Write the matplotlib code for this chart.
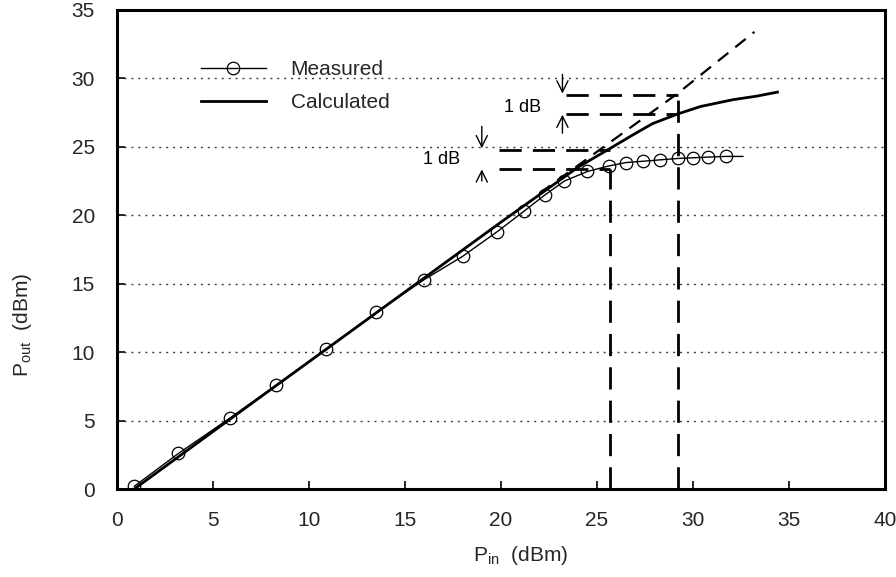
import matplotlib
matplotlib.use("Agg")
import matplotlib.pyplot as plt
import numpy as np

# measured output power vs input power
pin_meas = [0.9, 3.2, 5.9, 8.3, 10.9, 13.5, 16.0, 18.0, 19.8, 21.2, 22.3, 23.3, 24.5, 25.6,
            26.5, 27.4, 28.3, 29.2, 30.0, 30.8, 31.7]
pout_meas = [0.2, 2.6, 5.2, 7.6, 10.2, 12.9, 15.3, 17.0, 18.8, 20.3, 21.5, 22.5, 23.2, 23.6,
             23.85, 23.95, 24.05, 24.15, 24.2, 24.25, 24.3]
meas_line_end = 32.6

# calculated curve
pin_calc = [0.9, 5.0, 10.0, 15.0, 20.0, 22.0, 24.0, 25.7, 26.9, 27.9, 29.2, 30.4, 32.1, 33.3, 34.4]
pout_calc = [0.0, 4.2, 9.3, 14.4, 19.5, 21.5, 23.5, 24.9, 25.9, 26.7, 27.4, 27.95, 28.45, 28.7, 29.0]

# ideal (small-signal) extrapolation
pin_ideal = [22.0, 29.2, 33.2]
pout_ideal = [21.6, 28.9, 33.4]

# 1 dB compression markers: (x start, x end, y upper, y lower)
p1db_meas = (19.9, 25.7, 24.8, 23.4)
p1db_calc = (23.4, 29.2, 28.8, 27.4)

plt.rcParams.update({'font.family': 'Liberation Sans'})
plt.rcParams.update({'mathtext.fontset': 'custom', 'mathtext.rm': 'Liberation Sans',
                     'mathtext.it': 'Liberation Sans:italic'})

fig = plt.figure(figsize=(8.96, 5.77), dpi=100)
ax = fig.add_axes([0.1306, 0.1525, 0.9877 - 0.1306, 0.9827 - 0.1525])

for y in [5, 10, 15, 20, 25, 30]:
    ax.axhline(y, color='0.25', lw=1.0, linestyle=(0, (1.5, 3.5)), zorder=1)

# measured: thin line with open circles
x_line = pin_meas + [meas_line_end]
y_line = pout_meas + [pout_meas[-1]]
ax.plot(x_line, y_line, color='black', lw=1.0, zorder=3)
ax.plot(pin_meas, pout_meas, linestyle='none', marker='o', ms=9, mfc='none', mec='black',
        mew=0.9, zorder=4)
meas_handle, = ax.plot([], [], color='black', lw=1.0, marker='o', ms=9, mfc='none',
                       mec='black', mew=0.9)

calc_handle, = ax.plot(pin_calc, pout_calc, color='black', lw=2.0, zorder=3)

ax.plot(pin_ideal, pout_ideal, color='black', lw=1.6, dashes=(6, 4), zorder=3)

dash_kw = dict(color='black', lw=2.0, dashes=(8, 4), zorder=2)
for x0, x1, yu, yl in [p1db_meas, p1db_calc]:
    ax.plot([x0, x1], [yu, yu], **dash_kw)
    ax.plot([x0, x1], [yl, yl], **dash_kw)
    ax.plot([x1, x1], [0, yl if x1 < 27 else yu], **dash_kw)

arrow_kw = dict(arrowstyle='->', lw=1.0, color='black', shrinkA=0, shrinkB=0,
                mutation_scale=20)
ax.annotate('', xy=(19.0, 24.9), xytext=(19.0, 26.5), arrowprops=arrow_kw)
ax.annotate('', xy=(19.0, 23.35), xytext=(19.0, 22.5), arrowprops=arrow_kw)
ax.annotate('', xy=(23.2, 28.9), xytext=(23.2, 30.3), arrowprops=arrow_kw)
ax.annotate('', xy=(23.2, 27.35), xytext=(23.2, 26.0), arrowprops=arrow_kw)
ax.text(16.9, 24.1, '1 dB', fontsize=13, ha='center', va='center')
ax.text(21.1, 27.9, '1 dB', fontsize=13, ha='center', va='center')

ax.set_xlim(0, 40)
ax.set_ylim(0, 35)
ax.set_xticks(range(0, 45, 5))
ax.set_yticks(range(0, 40, 5))
ax.tick_params(direction='in', length=6, width=1.2, labelsize=15, top=False, right=False)
ax.tick_params(axis='x', pad=16, colors='black', labelcolor='0.15')
ax.tick_params(axis='y', pad=16, colors='black', labelcolor='0.15')
for s in ax.spines.values():
    s.set_linewidth(2.2)

ax.set_xlabel(r'P$_{\rm in}$  (dBm)', fontsize=15, labelpad=8, color='0.15')
ax.xaxis.set_label_coords(0.525, -0.115)
ax.set_ylabel(r'P$_{\rm out}$  (dBm)', fontsize=15, color='0.15')
ax.yaxis.set_label_coords(-0.108, 0.343)

leg = ax.legend([meas_handle, calc_handle], ['Measured', 'Calculated'], loc='upper left',
                bbox_to_anchor=(0.085, 0.935), frameon=False, fontsize=15, handlelength=3.1,
                handletextpad=1.2, labelspacing=0.7)
for t in leg.get_texts():
    t.set_color('0.15')

plt.savefig('out.png', dpi=100)
plt.close()
